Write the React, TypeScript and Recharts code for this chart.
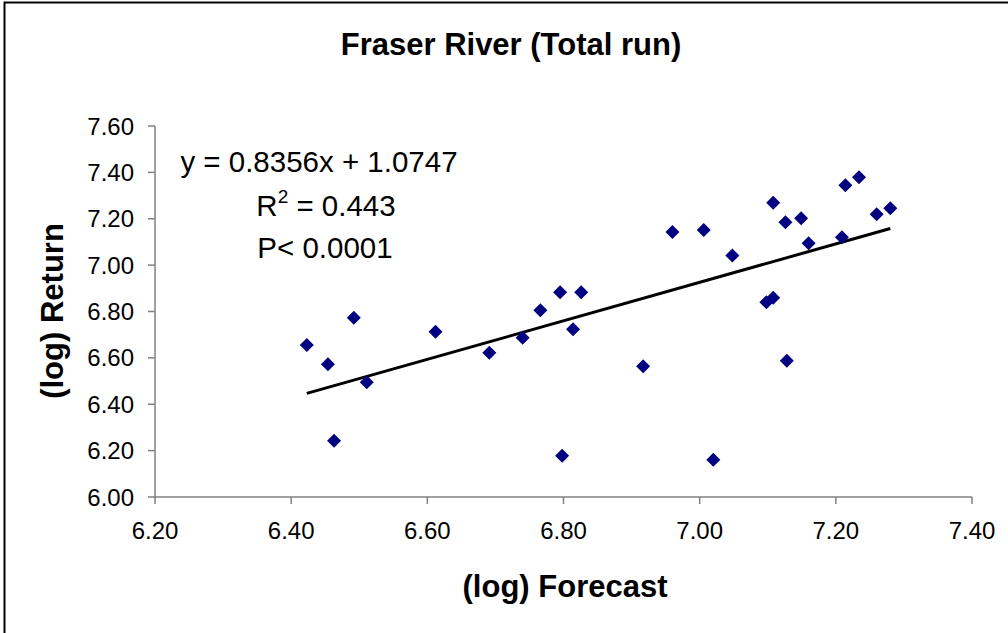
import { ScatterChart, Scatter, XAxis, YAxis } from "recharts";

const forecast = [
  6.423, 6.454, 6.463, 6.492, 6.511, 6.612, 6.691, 6.74, 6.766, 6.795,
  6.798, 6.814, 6.826, 6.917, 6.96, 7.006, 7.02, 7.048, 7.098, 7.108,
  7.128, 7.108, 7.126, 7.149, 7.16, 7.209, 7.214, 7.234, 7.26, 7.28,
];
const returns = [
  6.655, 6.572, 6.243, 6.773, 6.495, 6.713, 6.622, 6.687, 6.805, 6.883,
  6.178, 6.723, 6.883, 6.564, 7.143, 7.151, 6.161, 7.041, 6.84, 6.859,
  6.588, 7.269, 7.185, 7.202, 7.094, 7.12, 7.344, 7.379, 7.219, 7.245,
];
const trendX = [6.423, 7.28];
const trendY = [6.447, 7.158];

const xTicks = [6.2, 6.4, 6.6, 6.8, 7.0, 7.2, 7.4];
const yTicks = [6.0, 6.2, 6.4, 6.6, 6.8, 7.0, 7.2, 7.4, 7.6];

const points = forecast.map((x, i) => ({ x, y: returns[i] }));
const trend = trendX.map((x, i) => ({ x, y: trendY[i] }));

const font = '"Liberation Sans", Arial, sans-serif';

// rotated square marker like Excel's diamond
function Diamond(props: any) {
  const { cx, cy } = props;
  const r = 7;
  return (
    <polygon
      points={`${cx},${cy - r} ${cx + r},${cy} ${cx},${cy + r} ${cx - r},${cy}`}
      fill="#000080"
    />
  );
}

export default function App() {
  return (
    <div
      style={{
        position: "absolute",
        left: 0,
        top: 0,
        width: 1008,
        height: 633,
        background: "#fff",
        fontFamily: font,
      }}
    >
      <ScatterChart
        width={1008}
        height={633}
        margin={{ top: 126, right: 36, bottom: 76, left: 0 }}
      >
        <XAxis
          type="number"
          dataKey="x"
          domain={[6.2, 7.4]}
          ticks={xTicks}
          tickFormatter={(v: number) => v.toFixed(2)}
          height={60}
          tickSize={7}
          tickMargin={18}
          stroke="#808080"
          strokeWidth={1.5}
          tick={{ fill: "#000", fontSize: 24, fontFamily: font }}
        />
        <YAxis
          type="number"
          dataKey="y"
          domain={[6.0, 7.6]}
          ticks={yTicks}
          tickFormatter={(v: number) => v.toFixed(2)}
          width={155}
          tickSize={7}
          tickMargin={14}
          stroke="#808080"
          strokeWidth={1.5}
          tick={{ fill: "#000", fontSize: 24, fontFamily: font }}
        />
        <Scatter
          data={trend}
          line={{ stroke: "#000", strokeWidth: 3 }}
          shape={() => null}
          isAnimationActive={false}
        />
        <Scatter data={points} shape={Diamond} isAnimationActive={false} />
      </ScatterChart>
      <svg
        width={1008}
        height={633}
        style={{ position: "absolute", left: 0, top: 0, pointerEvents: "none" }}
        fontFamily={font}
      >
        <rect x={4.5} y={2.5} width={1100} height={700} fill="none" stroke="#000" strokeWidth={2} />
        <text x={511} y={55} textAnchor="middle" fontSize={31} fontWeight="bold">
          Fraser River (Total run)
        </text>
        <text x={565} y={597} textAnchor="middle" fontSize={31} fontWeight="bold">
          (log) Forecast
        </text>
        <text
          x={0}
          y={0}
          transform="translate(63,311) rotate(-90)"
          textAnchor="middle"
          fontSize={31}
          fontWeight="bold"
        >
          (log) Return
        </text>
        <text x={319} y={172} textAnchor="middle" fontSize={29.5}>
          y = 0.8356x + 1.0747
        </text>
        <text x={326} y={216} textAnchor="middle" fontSize={29.5}>
          R<tspan dy={-13} fontSize={19}>2</tspan>
          <tspan dy={13}> = 0.443</tspan>
        </text>
        <text x={325} y={258} textAnchor="middle" fontSize={29.5}>
          P&lt; 0.0001
        </text>
      </svg>
    </div>
  );
}
